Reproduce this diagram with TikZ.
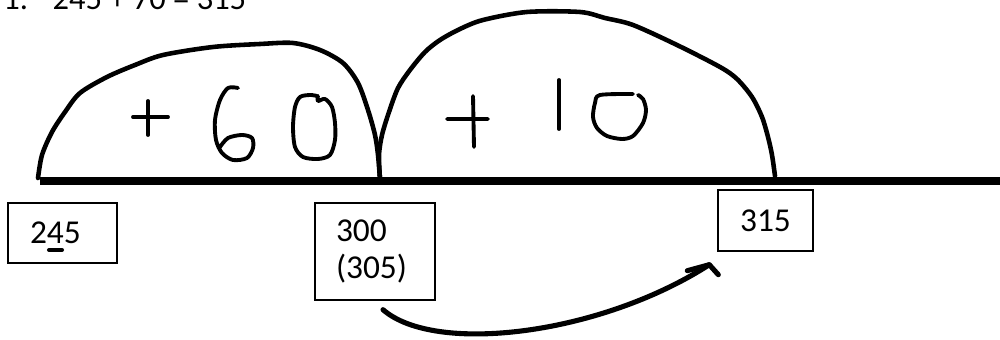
\documentclass[tikz,border=0pt]{standalone}
\usepackage{fontspec}
\setmainfont{Carlito}
\usetikzlibrary{positioning,calc}

\begin{document}
\begin{tikzpicture}[x=0.02cm,y=-0.02cm,
    numline/.style={line width=4.4pt},
    jump/.style={line width=2.6pt,line cap=round,line join=round},
    hand/.style={line width=2.2pt,line cap=round,line join=round},
    hop/.style={line width=2.9pt,line cap=round,line join=round},
    box/.style={draw,line width=0.8pt,inner ysep=0pt,align=left,
      font=\fontsize{19}{21}\selectfont},
    ttl/.style={font=\fontsize{18.5}{21}\selectfont,inner sep=0pt,anchor=base west}
  ]
    \useasboundingbox (0,0) rectangle (1000,340);
    % sum at the top
    \node[ttl](sum) at (3,10) {1.\hspace{14pt}245 + 70 = 315};
    % number line
    \coordinate (nlA) at (40,181);
    \coordinate (nlB) at (1000,181);
    \draw[numline](nlA)--(nlB);
    \coordinate (p245) at (38,178);
    \coordinate (p300) at (380,179);
    \coordinate (p315) at (775,176);
    % jumps
    \draw[jump] plot[smooth] coordinates {(p245) (42,155) (52,132) (65,112) (80,93)
      (107,77) (135,65) (163,55) (213,47) (260,44) (293,43) (320,50) (343,63)
      (358,83) (368,110) (375,135) (378,155) (p300)};
    \draw[jump] plot[smooth] coordinates {(p300) (379,155) (382,135) (389,112) (398,88)
      (410,70) (425,52) (440,40) (460,29) (483,20) (527,12) (580,12) (605,18)
      (633,25) (677,45) (720,67) (737,79) (752,97) (762,117) (768,137) (772,155) (p315)};
    % +60
    \draw[hand](133,117)--(168,117) (148,101)--(148,135);
    \draw[hand] plot[smooth] coordinates {(238,88) (228,88) (220,100) (215,120) (216,140)
      (222,153) (233,160) (247,158) (253,148) (252,138) (242,135) (228,138) (220,147)};
    \draw[hand] plot[smooth] coordinates {(317,96) (310,95) (300,97) (295,107) (293,127)
      (295,147) (303,157) (318,159) (330,155) (335,140) (335,123) (332,107) (325,99)
      (318,101) (318,96)};
    % +10
    \draw[hand](447,119)--(488,119) (473,96)--(474,147);
    \draw[hand](559,80)--(559,129);
    \draw[hand] plot[smooth] coordinates {(633,94) (600,95) (595,103) (593,117) (597,128)
      (607,136) (622,139) (633,136) (643,123) (646,110) (643,99) (638,95)};
    % boxes
    \node[box,inner xsep=0.44cm,text width=1.3cm,minimum height=1.2cm](b245) at (62.5,233) {245};
    \draw[hand,line width=2.3pt](49,250)--(62,250);
    \node[box,inner xsep=0.42cm,text width=1.56cm,minimum height=1.94cm](b300) at (375,251.5) {300\\(305)};
    \node[box,align=center,minimum width=1.9cm,minimum height=1.22cm](b315) at (765.5,220.5) {315};
    % hop from 300 to 315
    \coordinate (arrS) at ($(b300.south)+(8,9)$);
    \coordinate (arrE) at ($(b315.south west)+(-8,13)$);
    \draw[hop](arrS) .. controls (435,355) and (600,335) .. (arrE);
    \draw[hop]($(arrE)+(-22,6)$)--(arrE)--($(arrE)+(9,10)$);
  \end{tikzpicture}
\end{document}
